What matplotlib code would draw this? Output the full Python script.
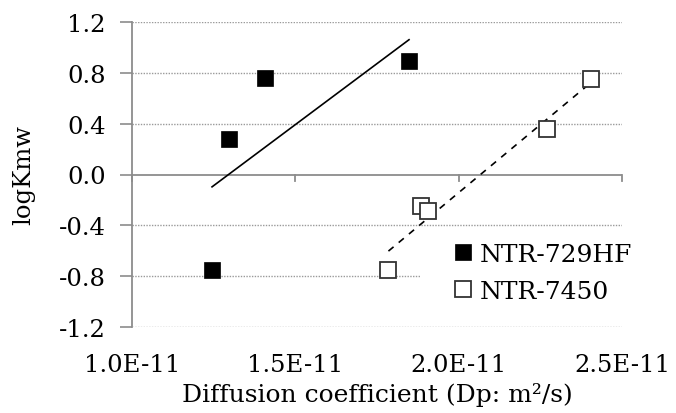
import numpy as np
import matplotlib
matplotlib.use("Agg")
import matplotlib.pyplot as plt
from matplotlib.patches import Rectangle

plt.rcParams["font.family"] = ["DejaVu Serif"]
plt.rcParams["axes.unicode_minus"] = False

# Diffusion coefficient (units of 1e-11 m2/s) and logKmw for each membrane
dp_729hf = [1.245, 1.297, 1.407, 1.848]
logk_729hf = [-0.75, 0.28, 0.76, 0.89]
dp_7450 = [1.785, 1.884, 1.905, 2.271, 2.405]
logk_7450 = [-0.75, -0.25, -0.29, 0.36, 0.75]

x_ticks = [1.0, 1.5, 2.0, 2.5]
x_tick_labels = ["1.0E-11", "1.5E-11", "2.0E-11", "2.5E-11"]
y_ticks = [-1.2, -0.8, -0.4, 0.0, 0.4, 0.8, 1.2]
y_tick_labels = ["-1.2", "-0.8", "-0.4", "0.0", "0.4", "0.8", "1.2"]

W, H = 676, 414
fig = plt.figure(figsize=(W / 100, H / 100), dpi=100)
ax = fig.add_axes([132 / W, 1 - 328 / H, (622 - 132) / W, (328 - 23) / H])

grid_c = "#9a9a9a"
axis_c = "#8c8c8c"
for yv in y_ticks:
    if yv == 0.0:
        continue
    ax.axhline(yv, color=grid_c, lw=1.0, ls=(0, (1, 1)), zorder=0)
ax.axhline(0.0, color=axis_c, lw=1.3, zorder=1)

# white backing behind the legend entries
ax.add_patch(Rectangle((420 / W, 1 - 312 / H), (622 - 420) / W, 74 / H,
                       transform=fig.transFigure, facecolor="white",
                       edgecolor="none", zorder=0.5))

# Linear fits over each data range
for xs, ys, style in [(dp_729hf, logk_729hf, "-"), (dp_7450, logk_7450, (0, (4, 4)))]:
    xs = np.asarray(xs)
    ys = np.asarray(ys)
    k, b = np.polyfit(xs, ys, 1)
    xr = np.array([xs.min(), xs.max()])
    ax.plot(xr, k * xr + b, color="black", lw=1.2, ls=style, zorder=2)

ax.plot(dp_729hf, logk_729hf, ls="none", marker="s", ms=11.5, mfc="black",
        mec="black", mew=0.5, zorder=3, label="NTR-729HF")
ax.plot(dp_7450, logk_7450, ls="none", marker="s", ms=11, mfc="white",
        mec="#333333", mew=1.3, zorder=3, label="NTR-7450")

ax.set_xlim(1.0, 2.5)
ax.set_ylim(-1.2, 1.2)

fs = 17.5
ax.set_yticks(y_ticks)
ax.set_yticklabels(y_tick_labels, fontsize=fs)
ax.set_xticks(x_ticks)
ax.set_xticklabels(x_tick_labels, fontsize=fs)
ax.tick_params(axis="y", length=9, width=1.2, color=axis_c, pad=10)
ax.tick_params(axis="x", length=0, pad=19)

# x tick marks hang from the zero line
for xv in x_ticks:
    ax.plot([xv, xv], [0.0, -0.055], color=axis_c, lw=1.3, zorder=1, clip_on=False)

for s in ["top", "right", "bottom"]:
    ax.spines[s].set_visible(False)
ax.spines["left"].set_color(axis_c)
ax.spines["left"].set_linewidth(1.3)

ax.set_xlabel("Diffusion coefficient (Dp: m\u00b2/s)", fontsize=18, labelpad=4)
ax.set_ylabel("logKmw", fontsize=fs, labelpad=17)

leg = ax.legend(loc="center left", bbox_to_anchor=(445 / W, 1 - 274 / H),
                bbox_transform=fig.transFigure, frameon=False,
                fontsize=18, handlelength=0.8, handletextpad=0.3,
                labelspacing=0.56, borderpad=0.3, borderaxespad=0,
                markerscale=1.0)

fig.savefig("out.png", dpi=100)
